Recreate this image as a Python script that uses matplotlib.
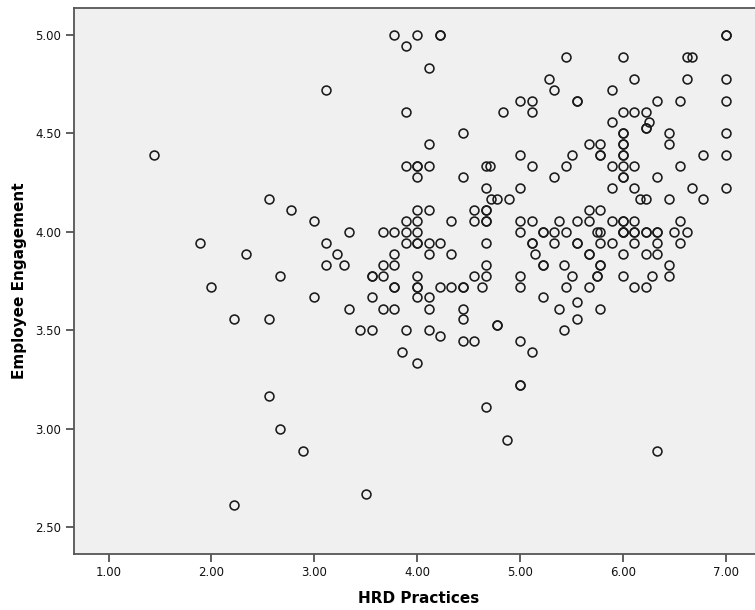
import matplotlib
matplotlib.use("Agg")
import matplotlib.pyplot as plt

# HRD Practices (x) and Employee Engagement (y)
hrd = [
    1.444,
    3.778, 4.0, 4.222, 4.222, 3.889, 4.111, 3.111, 5.0, 5.111,
    3.889, 4.833, 5.111, 4.444, 4.111, 5.0,
    3.889, 4.0, 4.0, 4.111, 4.667, 4.71, 5.111, 4.0, 4.444, 4.667, 5.0,
    7.0, 7.0, 5.444, 6.0, 6.625, 6.667, 5.278, 6.111, 6.625, 7.0,
    5.333, 5.889, 5.556, 5.556, 6.333, 6.556, 7.0, 6.0, 6.111, 6.222,
    5.889, 6.25, 6.222, 6.222, 6.0, 6.0, 6.444, 7.0,
    5.667, 5.778, 6.0, 6.0, 6.444,
    5.5, 5.778, 5.778, 6.0, 6.0, 6.778, 7.0,
    5.444, 5.889, 6.0, 6.111, 6.556, 5.333, 6.0, 6.0, 6.333,
    5.889, 6.111, 6.667, 7.0,
    2.556, 2.778, 1.889, 2.333, 2.667, 2.0, 2.222, 2.556,
    4.72, 4.778, 4.889,
    4.0, 4.111, 4.556, 4.667, 4.667,
    3.0, 3.889, 4.0, 4.333, 4.556, 4.667, 4.667, 5.0, 5.111,
    3.333, 3.667, 3.778, 3.889, 4.0, 5.0,
    3.111, 3.889, 4.0, 4.0, 4.111, 4.222, 4.667,
    3.222, 3.778, 4.111, 4.333,
    3.111, 3.286, 3.667, 3.778, 4.667,
    3.556, 3.556, 3.667, 4.0, 4.556, 4.667, 5.0,
    3.778, 3.778, 4.0, 4.0, 4.222, 4.333, 4.444, 4.444, 4.625, 5.0,
    3.0, 3.556, 4.0, 4.111,
    3.333, 3.667, 3.778, 4.111, 4.444,
    4.444, 4.778, 4.778,
    3.444, 3.556, 3.889, 4.111, 4.222,
    4.444, 4.556, 5.0, 3.857, 5.111, 4.0,
    6.167, 6.222, 6.444, 6.778, 5.667, 5.778,
    5.375, 5.556, 5.667, 5.889, 6.0, 6.0, 6.111, 6.556,
    5.222, 5.222, 5.333, 5.444, 5.75, 5.778, 6.0, 6.0, 6.0, 6.111, 6.111,
    6.222, 6.222, 6.333, 6.333, 6.5, 6.625,
    5.111, 5.111, 5.333, 5.556, 5.556, 5.778, 5.889, 6.111, 6.333, 6.556,
    5.143, 5.667, 5.667, 6.0, 6.222, 6.333,
    5.222, 5.222, 5.429, 5.778, 5.778, 6.444,
    5.5, 5.75, 5.75, 6.0, 6.286, 6.444,
    5.444, 5.667, 6.111, 6.222,
    5.222, 5.556, 5.375, 5.778, 5.556, 5.429,
    2.556, 2.667, 2.889, 2.222,
    5.0, 5.0, 4.667, 4.875, 3.5, 6.333,
]
engagement = [
    4.389,
    5.0, 5.0, 5.0, 5.0, 4.944, 4.833, 4.722, 4.667, 4.667,
    4.611, 4.611, 4.611, 4.5, 4.444, 4.389,
    4.333, 4.333, 4.333, 4.333, 4.333, 4.333, 4.333, 4.278, 4.278, 4.222, 4.222,
    5.0, 5.0, 4.889, 4.889, 4.889, 4.889, 4.778, 4.778, 4.778, 4.778,
    4.722, 4.722, 4.667, 4.667, 4.667, 4.667, 4.667, 4.611, 4.611, 4.611,
    4.556, 4.556, 4.528, 4.528, 4.5, 4.5, 4.5, 4.5,
    4.444, 4.444, 4.444, 4.444, 4.444,
    4.389, 4.389, 4.389, 4.389, 4.389, 4.389, 4.389,
    4.333, 4.333, 4.333, 4.333, 4.333, 4.278, 4.278, 4.278, 4.278,
    4.222, 4.222, 4.222, 4.222,
    4.167, 4.111, 3.944, 3.889, 3.778, 3.722, 3.556, 3.556,
    4.167, 4.167, 4.167,
    4.111, 4.111, 4.111, 4.111, 4.111,
    4.056, 4.056, 4.056, 4.056, 4.056, 4.056, 4.056, 4.056, 4.056,
    4.0, 4.0, 4.0, 4.0, 4.0, 4.0,
    3.944, 3.944, 3.944, 3.944, 3.944, 3.944, 3.944,
    3.889, 3.889, 3.889, 3.889,
    3.833, 3.833, 3.833, 3.833, 3.833,
    3.778, 3.778, 3.778, 3.778, 3.778, 3.778, 3.778,
    3.722, 3.722, 3.722, 3.722, 3.722, 3.722, 3.722, 3.722, 3.722, 3.722,
    3.667, 3.667, 3.667, 3.667,
    3.611, 3.611, 3.611, 3.611, 3.611,
    3.556, 3.528, 3.528,
    3.5, 3.5, 3.5, 3.5, 3.472,
    3.444, 3.444, 3.444, 3.389, 3.389, 3.333,
    4.167, 4.167, 4.167, 4.167, 4.111, 4.111,
    4.056, 4.056, 4.056, 4.056, 4.056, 4.056, 4.056, 4.056,
    4.0, 4.0, 4.0, 4.0, 4.0, 4.0, 4.0, 4.0, 4.0, 4.0, 4.0,
    4.0, 4.0, 4.0, 4.0, 4.0, 4.0,
    3.944, 3.944, 3.944, 3.944, 3.944, 3.944, 3.944, 3.944, 3.944, 3.944,
    3.889, 3.889, 3.889, 3.889, 3.889, 3.889,
    3.833, 3.833, 3.833, 3.833, 3.833, 3.833,
    3.778, 3.778, 3.778, 3.778, 3.778, 3.778,
    3.722, 3.722, 3.722, 3.722,
    3.667, 3.643, 3.611, 3.611, 3.556, 3.5,
    3.167, 3.0, 2.889, 2.611,
    3.222, 3.222, 3.111, 2.944, 2.667, 2.889,
]

x_ticks = [1.0, 2.0, 3.0, 4.0, 5.0, 6.0, 7.0]
y_ticks = [2.5, 3.0, 3.5, 4.0, 4.5, 5.0]

W, H = 755, 610
fig = plt.figure(figsize=(W / 100, H / 100), dpi=100)
fig.patch.set_facecolor("white")
left, bottom, top = 74, 554, 8
ax = fig.add_axes([left / W, 1 - bottom / H, 1 - left / W + 0.01, (bottom - top) / H])
ax.set_facecolor("#f0f0f0")

ax.plot(hrd, engagement, linestyle="none", marker="o", ms=6.4,
        mfc="none", mec="#1a1a1a", mew=1.15)

# axis ranges calibrated to pixel positions of the reference
x_per_px = 1 / 102.9
ax.set_xlim(1.0 - (108.5 - left) * x_per_px, 1.0 + (W + 0.01 * W - 108.5) * x_per_px)
y_per_px = 1 / 196.8
ax.set_ylim(2.5 - (bottom - 527.3) * y_per_px, 5.0 + (35 - top) * y_per_px)

ax.set_xticks(x_ticks)
ax.set_xticklabels([f"{v:.2f}" for v in x_ticks])
ax.set_yticks(y_ticks)
ax.set_yticklabels([f"{v:.2f}" for v in y_ticks])

for side in ["left", "bottom", "top"]:
    ax.spines[side].set_color("#555555")
    ax.spines[side].set_linewidth(1.3)
ax.spines["right"].set_visible(False)

ax.tick_params(axis="both", direction="out", length=6, width=1.2,
               color="#444444", labelsize=8.5, labelcolor="#111111", pad=3)

ax.set_xlabel("HRD Practices", fontsize=11, fontweight="bold", labelpad=8)
ax.set_ylabel("Employee Engagement", fontsize=11, fontweight="bold", labelpad=6)

fig.savefig("out.png", dpi=100)
